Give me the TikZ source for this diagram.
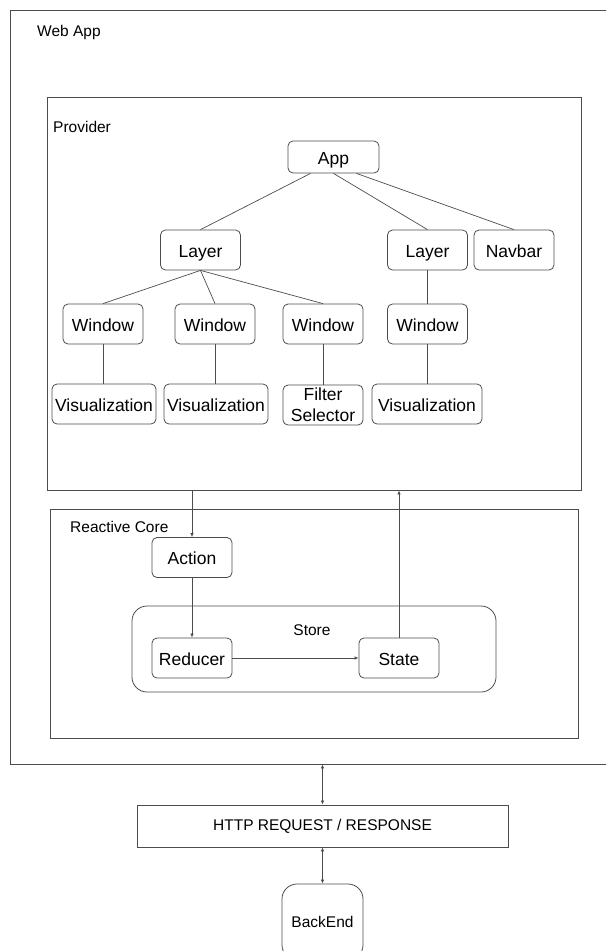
\documentclass[tikz,border=0pt]{standalone}
\usepackage{fontspec}
\setmainfont{Liberation Sans}
\usetikzlibrary{arrows.meta,calc}

\tikzset{
  box/.style={draw=black!70, line width=0.8pt, rounded corners=5pt, minimum width=80pt, minimum height=40pt, inner sep=0pt, text height=14pt, text depth=0pt, font=\fontsize{17.5}{21}\selectfont},
  frame/.style={draw=black!70, line width=0.8pt, inner sep=0pt},
  lbl/.style={anchor=west, inner sep=0pt, font=\fontsize{15.5}{18}\selectfont},
  link/.style={draw=black!70, line width=0.7pt},
  flow/.style={link, -{Latex[length=4pt,width=3.5pt]}},
  twoway/.style={link, {Latex[length=4pt,width=3.5pt]}-{Latex[length=4pt,width=3.5pt]}},
}

\begin{document}
\begin{tikzpicture}[x=1pt,y=-1pt]
\useasboundingbox (0,0) rectangle (606,951);
\clip (0,0) rectangle (606,951);

% containers
\node [frame, minimum width=610pt, minimum height=754pt] (webapp) at (315,387) {};
\node [lbl] (webapplbl) at (37,32.5) {Web App};
\node [frame, minimum width=534pt, minimum height=393pt] (provider) at (314,293.5) {};
\node [lbl] (providerlbl) at (53,126.5) {Provider};
\node [frame, minimum width=528pt, minimum height=229pt] (core) at (314,623.5) {};
\node [lbl] (corelbl) at (70,527) {Reactive Core};
\node [frame, rounded corners=15pt, minimum width=364pt, minimum height=86pt] (store) at (314,649) {};
\node [lbl, anchor=center] (storelbl) at (312,630) {Store};

% component tree
\node [box, minimum width=91pt, minimum height=32pt] (app) at (333.5,157) {App};
\node [box] (layA) at (200.5,250) {Layer};
\node [box] (layB) at (427.5,250) {Layer};
\node [box] (navbar) at (514,250) {Navbar};
\node [box] (winA) at (103,324) {Window};
\node [box] (winB) at (215,324) {Window};
\node [box] (winC) at (323,324) {Window};
\node [box] (winD) at (427.5,324) {Window};
\node [box, minimum width=104pt] (visA) at (104,404) {Visualization};
\node [box, minimum width=104pt] (visB) at (216,404) {Visualization};
\node [box, align=center, text height=, text depth=] (filter) at (323,405) {Filter\\Selector};
\node [box, minimum width=110pt] (visD) at (427,404) {Visualization};

\draw [link] ($(app.south)!0.5!(app.south west)$) -- (layA.north);
\draw [link] (app.south) -- (layB.north);
\draw [link] ($(app.south)!0.5!(app.south east)$) -- (navbar.north);
\foreach \w in {winA,winB,winC}
  \draw [link] (layA.south) -- (\w.north);
\draw [link] (layB.south) -- (winD.north);
\draw [link] (winA.south) -- (winA.south |- visA.north);
\draw [link] (winB.south) -- (winB.south |- visB.north);
\draw [link] (winC.south) -- (filter.north);
\draw [link] (winD.south) -- (winD.south |- visD.north);

% reactive core
\node [box] (action) at (192,557.5) {Action};
\node [box] (reducer) at (192,658) {Reducer};
\node [box] (state) at (399,658) {State};

\draw [flow] (action |- provider.south) -- (action.north);
\draw [flow] (action.south) -- (reducer.north);
\draw [flow] (reducer.east) -- (state.west);
\draw [flow] (state.north) -- (state |- provider.south);

% outside the app
\node [frame, minimum width=371pt, minimum height=42pt, font=\fontsize{15.5}{18}\selectfont] (http) at (322.5,826) {HTTP REQUEST / RESPONSE};
\node [frame, rounded corners=15pt, minimum width=81pt, minimum height=76pt, font=\fontsize{15.5}{18}\selectfont] (backend) at (322.5,922) {BackEnd};

\draw [twoway] (http |- webapp.south) -- (http.north);
\draw [twoway] (http.south) -- (backend.north);

\end{tikzpicture}
\end{document}
